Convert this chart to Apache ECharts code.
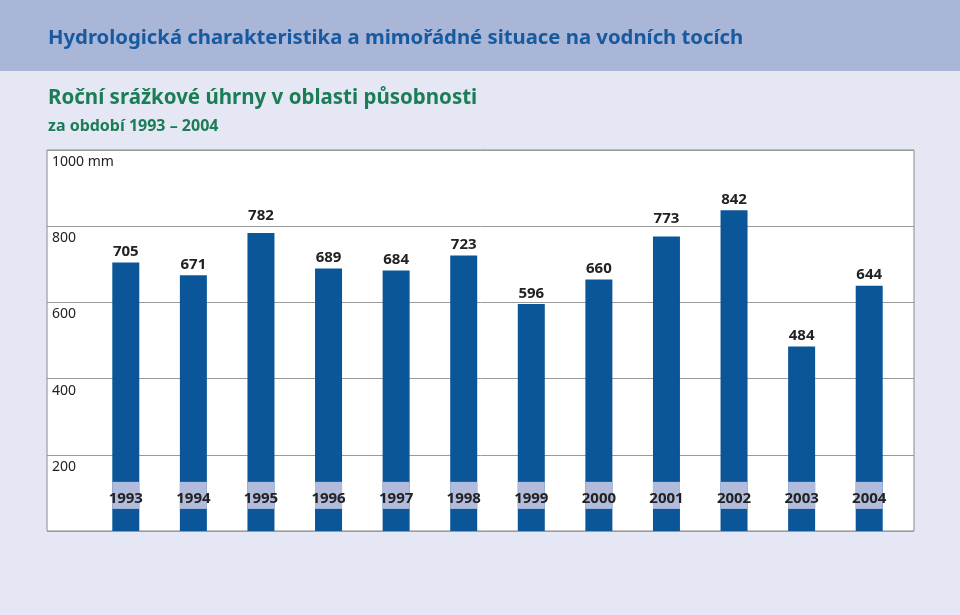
<!DOCTYPE html>
<html><head><meta charset="utf-8">
<script src="https://cdn.jsdelivr.net/npm/echarts@6/dist/echarts.min.js"></script>
<style>html,body{margin:0;padding:0;background:#e5e8f4}#c{width:960px;height:615px}</style>
</head><body><div id="c"></div>
<script>
const years = ['1993','1994','1995','1996','1997','1998','1999','2000','2001','2002','2003','2004'];
const rainfall = [705, 671, 782, 689, 684, 723, 596, 660, 773, 842, 484, 644];
const yTicks = [0, 200, 400, 600, 800, 1000];
const bandRange = [58, 129];

const FONT = '"Noto Sans", sans-serif';
const chart = echarts.init(document.getElementById('c'));
const labelNearGrid = v => (v % 200) > 160 && (v % 200) < 190;

chart.setOption({
  animation: false,
  backgroundColor: '#e5e8f4',
  graphic: [
    {type: 'rect', left: 0, top: 0, z: -10, shape: {width: 960, height: 71}, style: {fill: '#a9b6d7'}},
    {type: 'text', left: 48, top: 28, style: {text: 'Hydrologická charakteristika a mimořádné situace na vodních tocích', font: 'bold 20.3px ' + FONT, fill: '#175aa0'}},
    {type: 'text', left: 48, top: 88, style: {text: 'Roční srážkové úhrny v oblasti působnosti', font: 'bold 20.5px ' + FONT, fill: '#1b7d55'}},
    {type: 'text', left: 48, top: 118, style: {text: 'za období 1993 – 2004', font: 'bold 16px ' + FONT, fill: '#1b7d55'}}
  ],
  grid: [
    {left: 47, right: 46, top: 150, bottom: 84, show: true, backgroundColor: '#ffffff', borderColor: '#8a8a8a', borderWidth: 1},
    {left: 92, right: 57, top: 150, bottom: 84}
  ],
  xAxis: [
    {type: 'value', gridIndex: 0, show: false},
    {type: 'category', gridIndex: 1, data: years, axisLine: {show: false}, axisTick: {show: false}, axisLabel: {show: false}}
  ],
  yAxis: [
    {type: 'value', gridIndex: 0, min: yTicks[0], max: yTicks[yTicks.length - 1], interval: 200,
     axisLine: {show: false}, axisTick: {show: false},
     splitLine: {lineStyle: {color: '#9a9a9a', width: 1}},
     axisLabel: {inside: true, margin: 5, verticalAlign: 'top', padding: [5, 0, 0, 0], color: '#222', fontFamily: FONT, fontSize: 14,
       formatter: v => v === 0 ? '' : (v === 1000 ? v + ' mm' : String(v))}},
    {type: 'value', gridIndex: 1, min: yTicks[0], max: yTicks[yTicks.length - 1], show: false}
  ],
  series: [
    {type: 'bar', xAxisIndex: 1, yAxisIndex: 1, barWidth: 27,
     data: rainfall.map(v => ({value: v, label: {distance: labelNearGrid(v) ? 10 : 3}})),
     itemStyle: {color: '#0b5699'},
     label: {show: true, position: 'top', color: '#222', fontFamily: FONT, fontWeight: 'bold', fontSize: 15}},
    {type: 'bar', xAxisIndex: 1, yAxisIndex: 1, barWidth: 27, barGap: '-100%', stack: 'band',
     data: years.map(() => bandRange[0]), itemStyle: {color: 'rgba(0,0,0,0)'}, silent: true},
    {type: 'bar', xAxisIndex: 1, yAxisIndex: 1, barWidth: 27, barGap: '-100%', stack: 'band',
     data: years.map(() => bandRange[1] - bandRange[0]), itemStyle: {color: '#b1bcdc'},
     label: {show: true, position: 'inside', offset: [0, 3], formatter: p => p.name, color: '#222', fontFamily: FONT, fontWeight: 'bold', fontSize: 15}}
  ]
});
</script></body></html>
